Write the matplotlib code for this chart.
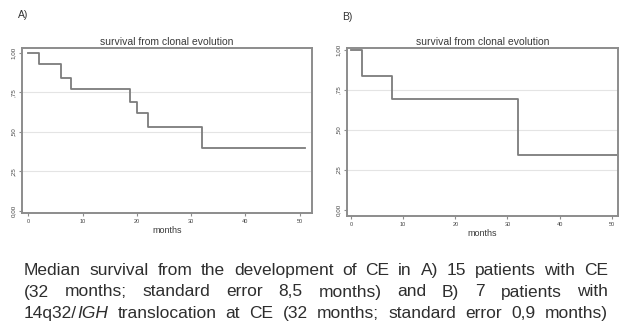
import matplotlib
matplotlib.use("Agg")
import matplotlib.pyplot as plt

plt.rcParams['font.family'] = ['Liberation Sans', 'DejaVu Sans']

# Kaplan-Meier steps
a_months = [0, 2.0, 6.0, 7.9, 18.8, 20.0, 22.0, 32.0, 51.0]
a_surv = [1.0, 0.93, 0.84, 0.77, 0.69, 0.62, 0.53, 0.40, 0.40]

b_months = [0, 2.1, 7.9, 32.0, 51.0]
b_surv = [1.0, 0.84, 0.69, 0.34, 0.34]

x_ticks = [0, 10, 20, 30, 40, 50]
y_ticks = [0.0, 0.25, 0.5, 0.75, 1.0]
y_labels = ['0,00', ',25', ',50', ',75', '1,00']

panel_title = 'survival from clonal evolution'
caption_lines = [
    [[('Median', 'normal')], [('survival', 'normal')], [('from', 'normal')], [('the', 'normal')],
     [('development', 'normal')], [('of', 'normal')], [('CE', 'normal')], [('in', 'normal')],
     [('A)', 'normal')], [('15', 'normal')], [('patients', 'normal')], [('with', 'normal')],
     [('CE', 'normal')]],
    [[('(32', 'normal')], [('months;', 'normal')], [('standard', 'normal')], [('error', 'normal')],
     [('8,5', 'normal')], [('months)', 'normal')], [('and', 'normal')], [('B)', 'normal')],
     [('7', 'normal')], [('patients', 'normal')], [('with', 'normal')]],
    [[('14q32/', 'normal'), ('IGH', 'italic')], [('translocation', 'normal')], [('at', 'normal')],
     [('CE', 'normal')], [('(32', 'normal')], [('months;', 'normal')], [('standard', 'normal')],
     [('error', 'normal')], [('0,9', 'normal')], [('months)', 'normal')]],
]

W, H = 621, 327
fig = plt.figure(figsize=(W / 100, H / 100), dpi=100)

CURVE = '#7c7c7c'
FRAME = '#8c8c8c'
TXT = '#444444'


def px_axes(left, top, right, bottom):
    return fig.add_axes([left / W, 1 - bottom / H, (right - left) / W, (bottom - top) / H])


def km_panel(ax, months, surv, xlim, ylim):
    ax.step(months, surv, where='post', color=CURVE, lw=1.3)
    ax.set_xlim(*xlim)
    ax.set_ylim(*ylim)
    ax.set_xticks(x_ticks)
    ax.set_xticklabels([str(t) for t in x_ticks], fontsize=4, color=TXT)
    ax.set_yticks(y_ticks)
    ax.set_yticklabels(y_labels, fontsize=4.5, color=TXT, rotation=90, va='center')
    for y in y_ticks[1:-1]:
        ax.axhline(y, color='#e4e4e4', lw=0.8, zorder=0)
    for s in ax.spines.values():
        s.set_color(FRAME)
        s.set_linewidth(1.4)
    ax.tick_params(length=2.5, width=0.8, color=FRAME, pad=2)
    ax.set_title(panel_title, fontsize=7.5, color='#3a3a3a', pad=2)
    ax.set_xlabel('months', fontsize=6.5, color='#3a3a3a', labelpad=1)


ax_a = px_axes(22, 48, 312, 213)
km_panel(ax_a, a_months, a_surv, (-1.16, 52.3), (-0.015, 1.032))

ax_b = px_axes(347, 48, 618, 216)
km_panel(ax_b, b_months, b_surv, (-0.77, 51.2), (-0.04, 1.0125))

fig.text(18 / W, 1 - 15 / H, 'A)', fontsize=7.5, color='#333333', va='center')
fig.text(342 / W, 1 - 17 / H, 'B)', fontsize=7.5, color='#333333', va='center')

# caption, justified word by word between two margins
renderer = fig.canvas.get_renderer()
CAP_L, CAP_R = 24, 608
baselines = [275, 296.5, 318]
CAP_FS = 12.5


def word_width(parts):
    w = 0
    for s, st in parts:
        t = fig.text(0, 0, s, fontsize=CAP_FS, style=st)
        w += t.get_window_extent(renderer).width
        t.remove()
    return w


for words, yb in zip(caption_lines, baselines):
    widths = [word_width(p) for p in words]
    gap = (CAP_R - CAP_L - sum(widths)) / (len(words) - 1)
    x = CAP_L
    for parts, w in zip(words, widths):
        xx = x
        for s, st in parts:
            t = fig.text(xx / W, 1 - yb / H, s, fontsize=CAP_FS, style=st,
                         color='#2e2e2e', va='baseline', ha='left')
            xx += t.get_window_extent(renderer).width
        x += w + gap

fig.savefig('out.png', dpi=100)
